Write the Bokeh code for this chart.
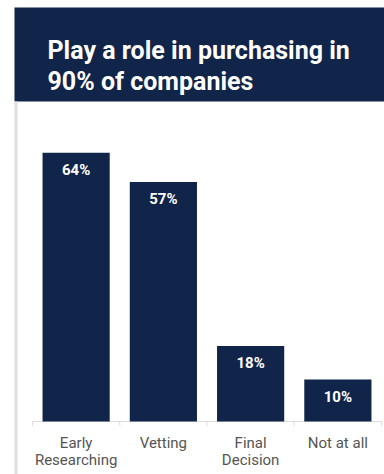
from bokeh.plotting import figure
from bokeh.models import ColumnDataSource, BoxAnnotation, Label, Range1d, LabelSet
from bokeh.core.properties import value
from bokeh.embed import file_html
from bokeh.resources import INLINE

categories = ["Early\nResearching", "Vetting", "Final\nDecision", "Not at all"]
values = [64, 57, 18, 10]
value_labels = ["64%", "57%", "18%", "10%"]
title_lines = ["Play a role in purchasing in", "90% of companies"]

NAVY = "#11244a"
W, H = 384, 474

xpos = [i + 0.5 for i in range(len(categories))]
line1 = [c.split("\n")[0] for c in categories]
line2 = [c.split("\n")[1] if "\n" in c else "" for c in categories]
src = ColumnDataSource(dict(x=xpos, cat=categories, l1=line1, l2=line2, val=values,
                            lab=value_labels, zero=[0] * len(values)))
bounds = list(range(len(categories) + 1))
tick_src = ColumnDataSource(dict(x=bounds, y0=[0] * len(bounds), y1=[-1.0] * len(bounds)))

# pixel layout: category width 87.25 px, first boundary at x=32; baseline at y=421, 4.2 px per %
p = figure(x_range=Range1d(-32 / 87.25, (W - 32) / 87.25),
           y_range=Range1d(-(H - 421) / 4.2, 421 / 4.2),
           width=W, height=H, output_backend="svg", toolbar_location=None,
           min_border=0, min_border_left=0, min_border_right=0,
           min_border_top=0, min_border_bottom=0)
p.background_fill_color = "white"
p.border_fill_color = "white"
p.outline_line_color = None
p.grid.grid_line_color = None
p.xaxis.visible = False
p.yaxis.visible = False

# axis baseline and boundary ticks
p.segment(x0=bounds[0], y0=0, x1=bounds[-1], y1=0, line_color="#dcdcdc", line_width=1)
p.segment(x0="x", y0="y0", x1="x", y1="y1", source=tick_src, line_color="#dcdcdc", line_width=1)

p.vbar(x="x", top="val", width=0.77, source=src, fill_color=NAVY, line_color=None)

p.add_layout(LabelSet(x="x", y="val", text="lab", source=src, y_offset=-22,
                      text_align="center", text_baseline="alphabetic",
                      text_color="white", text_font=value("Roboto"),
                      text_font_style="bold", text_font_size="15px"))

for col, off in (("l1", -26), ("l2", -43)):
    p.add_layout(LabelSet(x="x", y="zero", text=col, source=src, y_offset=off,
                          text_align="center", text_baseline="alphabetic",
                          text_color="#555555", text_font=value("Roboto"),
                          text_font_size="15px"))

header = BoxAnnotation(left=14, right=W, top=H - 7, bottom=H - 101,
                       left_units="screen", right_units="screen",
                       top_units="screen", bottom_units="screen",
                       fill_color=NAVY, fill_alpha=1, line_color=None)
p.add_layout(header)
strip = BoxAnnotation(left=14, right=17, top=H - 101, bottom=0,
                      left_units="screen", right_units="screen",
                      top_units="screen", bottom_units="screen",
                      fill_color="#dedede", fill_alpha=1, line_color=None)
p.add_layout(strip)

for i, t in enumerate(title_lines):
    p.add_layout(Label(x=47, y=H - 50 - 31 * i, x_units="screen", y_units="screen",
                       text=t, text_color="white", text_font="Roboto",
                       text_font_style="bold", text_font_size="25px",
                       text_baseline="alphabetic"))

open("out.html", "w").write(file_html(p, INLINE))
